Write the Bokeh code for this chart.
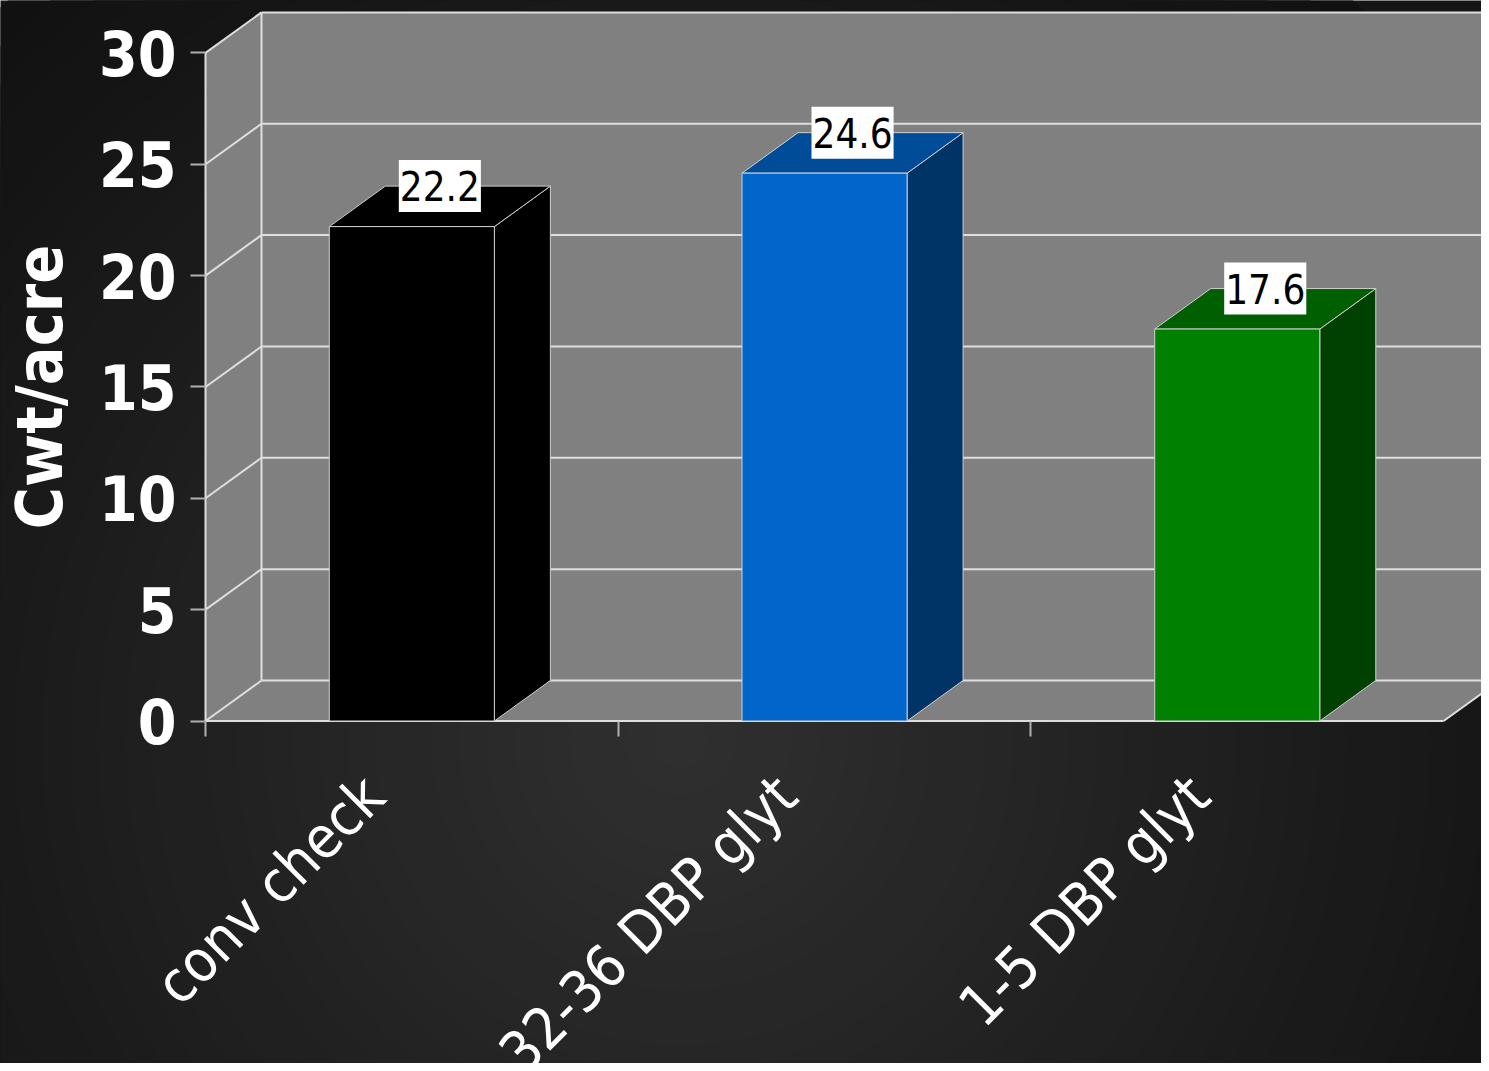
import math
from bokeh.plotting import figure
from bokeh.models import LinearAxis, FixedTicker, Label, ColumnDataSource
from bokeh.embed import file_html
from bokeh.resources import INLINE
from bokeh.core.properties import value

# ---------------- data ----------------
categories = ["conv check", "32-36 DBP glyt", "1-5 DBP glyt"]
values = [22.2, 24.6, 17.6]
value_labels = ["22.2", "24.6", "17.6"]
front_colors = ["#000000", "#0066CC", "#008000"]
top_colors = ["#000000", "#004C99", "#006000"]
side_colors = ["#000000", "#003366", "#004000"]
y_ticks = [0, 5, 10, 15, 20, 25, 30]
y_title = "Cwt/acre"

# ---------------- layout ----------------
W, H = 1481, 1063
X0_PX, PX_PER_CAT = 205.0, 412.7
Y0_PX, PX_PER_UNIT = 720.5, 22.27
x_start = -X0_PX / PX_PER_CAT
x_end = (W - X0_PX) / PX_PER_CAT
y_end = Y0_PX / PX_PER_UNIT
y_start = -(H - Y0_PX) / PX_PER_UNIT

DX = 56.0 / PX_PER_CAT
DY = 40.5 / PX_PER_UNIT
YMAX = 30
NCAT = len(categories)
BAR_W = 0.4
LABEL_SHIFT = 0.092
FONT = "DejaVu Sans Condensed"

p = figure(width=W, height=H, x_range=(x_start, x_end), y_range=(y_start, y_end),
           output_backend="svg", toolbar_location=None,
           x_axis_location=None, y_axis_location=None, min_border=0,
           background_fill_color="#161616", border_fill_color="#161616",
           outline_line_color=None)
p.grid.visible = False

# ---------------- background radial gradient ----------------
def lerp_hex(c1, c2, t):
    a = [int(c1[i:i + 2], 16) for i in (1, 3, 5)]
    b = [int(c2[i:i + 2], 16) for i in (1, 3, 5)]
    return "#%02x%02x%02x" % tuple(round(a[k] + (b[k] - a[k]) * t) for k in range(3))

cx = (680 - X0_PX) / PX_PER_CAT
cy = (Y0_PX - 740) / PX_PER_UNIT
n = 36
R = 1000
sizes, cols = [], []
for i in range(n):
    t = 1 - i / n
    sizes.append(2 * R * t)
    cols.append(lerp_hex("#303030", "#111111", t))
p.scatter([cx] * n, [cy] * n, size=sizes, marker="circle", fill_color=cols, line_color=None)

# ---------------- walls & floor ----------------
wall = "#808080"
p.patch([DX, NCAT + DX + 0.2, NCAT + DX + 0.2, DX], [DY, DY, YMAX + DY, YMAX + DY], fill_color=wall, line_color=None)
p.patch([0, DX, DX, 0], [0, DY, YMAX + DY, YMAX], fill_color=wall, line_color=None)
p.patch([0, NCAT, NCAT + DX, DX], [0, 0, DY, DY], fill_color=wall, line_color=None)

gx, gy = [], []
for v in y_ticks:
    gx.append([DX, NCAT + DX + 0.2]); gy.append([v + DY, v + DY])
    gx.append([0, DX]); gy.append([v, v + DY])
gx.append([DX, DX]); gy.append([DY, YMAX + DY])
gx.append([NCAT, NCAT + DX]); gy.append([0, DY])
gx.append([0, 0]); gy.append([0, YMAX])
gx.append([0, NCAT]); gy.append([0, 0])
p.multi_line(gx, gy, line_color="#dedede", line_width=2)

# ---------------- 3D bars ----------------
centers = [i + 0.5 for i in range(NCAT)]
fx, fy, tx, ty, sx, sy = [], [], [], [], [], []
for c, v in zip(centers, values):
    l, r = c - BAR_W / 2, c + BAR_W / 2
    fx.append([l, r, r, l]); fy.append([0, 0, v, v])
    tx.append([l, r, r + DX, l + DX]); ty.append([v, v, v + DY, v + DY])
    sx.append([r, r + DX, r + DX, r]); sy.append([0, DY, v + DY, v])
p.patches(sx, sy, fill_color=side_colors, line_color="#d0d0d0", line_width=1)
p.patches(tx, ty, fill_color=top_colors, line_color="#d0d0d0", line_width=1)
p.patches(fx, fy, fill_color=front_colors, line_color="#d0d0d0", line_width=1)

src = ColumnDataSource(dict(x=[c + DX / 2 for c in centers], y=[v + DY for v in values], t=value_labels))
p.text(x="x", y="y", text="t", source=src, text_align="center", text_baseline="middle",
       text_font=value(FONT), text_font_size="40px", text_color="black",
       background_fill_color="white", padding=dict(left=1, right=1, top=11, bottom=11))

# ---------------- axes ----------------
yax = LinearAxis(fixed_location=0, ticker=FixedTicker(ticks=y_ticks), axis_line_color=None,
                 major_tick_in=0, major_tick_out=15, major_tick_line_color="#b0b0b0", major_tick_line_width=2,
                 minor_tick_line_color=None, major_label_text_font=FONT,
                 major_label_text_font_style="bold", major_label_text_font_size="62px",
                 major_label_text_color="white", major_label_standoff=14)
p.add_layout(yax, "left")

label_pos = [c - LABEL_SHIFT for c in centers]
xax = LinearAxis(fixed_location=0,
                 ticker=FixedTicker(ticks=label_pos, minor_ticks=[0, 1, 2]),
                 major_label_overrides={c: name for c, name in zip(label_pos, categories)},
                 axis_line_color=None, major_tick_line_color=None,
                 minor_tick_in=0, minor_tick_out=15, minor_tick_line_color="#b0b0b0", minor_tick_line_width=2,
                 major_label_orientation=math.pi / 4, major_label_text_font=FONT,
                 major_label_text_font_size="58px", major_label_text_color="white", major_label_standoff=50)
p.add_layout(xax, "below")

p.add_layout(Label(x=-0.40, y=15, text=y_title, angle=math.pi / 2, text_align="center",
                   text_baseline="middle", text_font=FONT, text_font_style="bold",
                   text_font_size="64px", text_color="white"))

open("out.html", "w").write(file_html(p, INLINE))
